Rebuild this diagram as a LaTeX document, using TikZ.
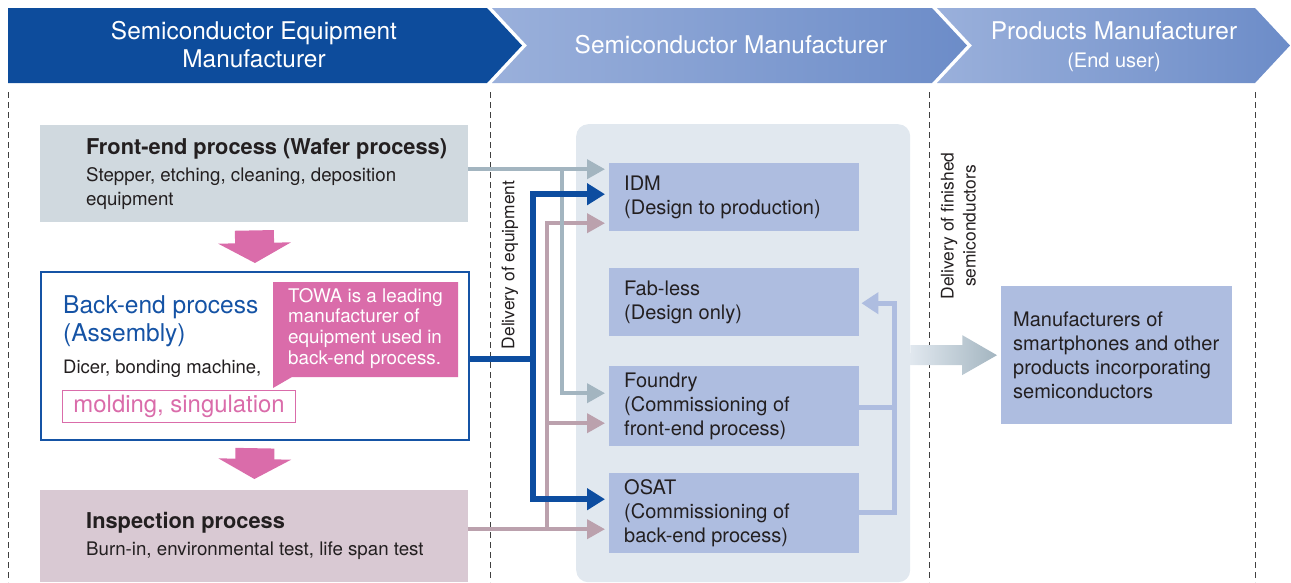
\documentclass[tikz,border=0pt]{standalone}
\usepackage{fontspec}
\setmainfont{TeX Gyre Heros}
\usetikzlibrary{arrows.meta,positioning}
\definecolor{bandblue}{HTML}{0D4C9C}
\definecolor{bandlight}{HTML}{9AB0DB}
\definecolor{banddark}{HTML}{6C8CC8}
\definecolor{frontgray}{HTML}{D0D9DF}
\definecolor{inspgray}{HTML}{D9C9D3}
\definecolor{backblue}{HTML}{1553A5}
\definecolor{towapink}{HTML}{DA6CAA}
\definecolor{panelgray}{HTML}{E1E8EF}
\definecolor{firmblue}{HTML}{AEBDE0}
\definecolor{frontline}{HTML}{A3B5C0}
\definecolor{inspline}{HTML}{BBA1AD}
\definecolor{equipblue}{HTML}{0D4DA0}
\definecolor{inktext}{HTML}{231F20}

\begin{document}
\begin{tikzpicture}
		[x=1pt, y=-1pt, inner sep=0pt, text=inktext,
		stagetext/.style	= {text=white, align=center, font=\fontsize{24.4}{28}\selectfont},
		procbox/.style	= {rectangle, anchor=north west, minimum width=428pt},
		proctext/.style	= {align=left, font=\fontsize{18.7}{24}\selectfont},
		firmbox/.style	= {rectangle, fill=firmblue, anchor=north west, minimum width=250pt},
		firmtext/.style	= {align=left, font=\fontsize{20}{24}\selectfont},
		delivtext/.style	= {rotate=90, align=center, font=\fontsize{17.4}{22}\selectfont},
		divider/.style	= {draw=black!75, line width=0.8pt, dash pattern=on 6pt off 4pt},
		frontpath/.style	= {->, >={Triangle[length=18pt,width=19pt]}, draw=frontline, line width=4pt, shorten >=4pt},
		equippath/.style	= {->, >={Triangle[length=18pt,width=21pt]}, draw=equipblue, line width=6pt, shorten >=4pt},
		insppath/.style	= {->, >={Triangle[length=18pt,width=19pt]}, draw=inspline, line width=4pt, shorten >=4pt},
		returnpath/.style	= {draw=firmblue, line width=5pt},
		flowdown/.style	= {->, >={Triangle[length=20pt,width=72pt]}, draw=towapink, line width=39pt}]
		
		\useasboundingbox (0,0) rectangle (1291,582);
		
		% stage banners
		\fill [bandblue] (8,8) -- (487,8) -- (522,45.5) -- (487,83) -- (8,83) -- cycle;
		\shade [left color=bandlight, right color=banddark] (492,8) -- (932,8) -- (967,45.5) -- (932,83) -- (492,83) -- (527,45.5) -- cycle;
		\shade [left color=bandlight, right color=banddark] (937,8) -- (1255,8) -- (1290,45.5) -- (1255,83) -- (937,83) -- (972,45.5) -- cycle;
		
		\node at (254, 44.5)	[stagetext]	(equip)	{Semiconductor Equipment\\Manufacturer};
		\node at (731, 45)	[stagetext]	(semi)	{Semiconductor Manufacturer};
		\node at (1114, 46.5)	[stagetext]	(enduser)	{Products Manufacturer\\{\fontsize{20}{24}\selectfont (End user)}};
		
		\draw [divider] (8,92) -- (8,582);
		\draw [divider] (490,92) -- (490,582);
		\draw [divider] (929,92) -- (929,582);
		\draw [divider] (1255,92) -- (1255,582);
		
		% equipment side
		\node at (40, 125)	[procbox, fill=frontgray, minimum height=97pt]	(fe)	{};
		\node at (40, 271)	[procbox, draw=backblue, line width=2.2pt, fill=white, minimum height=168pt]	(be)	{};
		\node at (40, 490)	[procbox, fill=inspgray, minimum height=92pt]	(insp)	{};
		
		\node [proctext, right=46pt of fe.west]	(fetxt)	{{\bfseries\fontsize{21.8}{27}\selectfont Front-end process (Wafer process)}\\[3pt]Stepper, etching, cleaning, deposition\\equipment};
		\node [proctext, right=46pt of insp.west]	(insptxt)	{{\bfseries\fontsize{21.8}{27}\selectfont Inspection process}\\[3pt]Burn-in, environmental test, life span test};
		
		\node at (63, 295.5)	[anchor=north west, align=left, text=backblue, font=\fontsize{24.5}{28}\selectfont]	(betxt)	{Back-end process\\(Assembly)};
		\node at (63, 373)	[anchor=base west, font=\fontsize{18.5}{24}\selectfont]	(dicer)	{Dicer, bonding machine,};
		\node at (62, 390)	[anchor=north west, draw=towapink, line width=1.2pt, text=towapink, minimum width=233pt, minimum height=32pt, font=\fontsize{23.9}{28}\selectfont]	(mold)	{molding, singulation};
		
		\fill [towapink] (273,282) -- (458,282) -- (458,377) -- (292,377) -- (273,388) -- cycle;
		\node at (288, 288)	[anchor=north west, align=left, text=white, font=\fontsize{18.8}{20.7}\selectfont]	(towa)	{TOWA is a leading\\manufacturer of\\equipment used in\\back-end process.};
		
		\draw [flowdown, shorten <=8pt, shorten >=8pt] (fe.south) -- (be.north);
		\draw [flowdown, shorten <=7pt, shorten >=11pt] (be.south) -- (insp.north);
		
		% semiconductor manufacturer side
		\node at (576, 124)	[rectangle, anchor=north west, fill=panelgray, rounded corners=12pt, minimum width=334pt, minimum height=458pt]	(panel)	{};
		
		\node at (609, 163)	[firmbox, minimum height=68pt]	(idm)	{};
		\node at (609, 268)	[firmbox, minimum height=68pt]	(fab)	{};
		\node at (609, 366)	[firmbox, minimum height=80pt]	(fdy)	{};
		\node at (609, 473)	[firmbox, minimum height=80pt]	(osat)	{};
		\node at (1001, 286)	[firmbox, minimum width=231pt, minimum height=138pt]	(cust)	{};
		
		\node [firmtext, right=15pt of idm.west]	(idmtxt)	{IDM\\(Design to production)};
		\node [firmtext, right=15pt of fab.west]	(fabtxt)	{Fab-less\\(Design only)};
		\node [firmtext, right=15pt of fdy.west]	(fdytxt)	{Foundry\\(Commissioning of\\front-end process)};
		\node [firmtext, right=15pt of osat.west]	(osattxt)	{OSAT\\(Commissioning of\\back-end process)};
		\node [firmtext, right=12pt of cust.west]	(custtxt)	{Manufacturers of\\smartphones and other\\products incorporating\\semiconductors};
		
		\node at (510, 265)	[delivtext]	(delequip)	{Delivery of equipment};
		\node at (958.5, 226)	[delivtext]	(delfin)	{Delivery of finished\\semiconductors};
		
		% deliveries of equipment
		\draw [insppath] ([yshift=7pt]insp.east) -- ([yshift=-16pt]osat.west);
		\draw [insppath] ([yshift=7pt]insp.east) -- ++(79,0) |- ([yshift=-17pt]fdy.west);
		\draw [insppath] ([yshift=7pt]insp.east) -- ++(79,0) |- ([yshift=-26pt]idm.west);
		
		\draw [frontpath] ([yshift=4.5pt]fe.east) -- ([yshift=28pt]idm.west);
		\draw [frontpath] ([yshift=4.5pt]fe.east) -- ++(94,0) |- ([yshift=13pt]fdy.west);
		
		\draw [equippath] ([yshift=-3pt]be.east) -- ++(63,0) |- ([yshift=3pt]idm.west);
		\draw [equippath] ([yshift=-3pt]be.east) -- ++(63,0) |- ([yshift=14pt]osat.west);
		
		% contract manufacturers back to fab-less
		\draw [returnpath] ([yshift=-1pt]fdy.east) -- ++(35,0);
		\draw [returnpath, ->, >={Triangle[length=17pt,width=21pt]}, shorten >=2pt] ([yshift=1pt]osat.east) -- ++(35,0) |- ([yshift=-1pt]fab.east);
		
		% finished semiconductors to end user
		\shade [left color=panelgray, right color=frontline] (panel.east |- cust.west) ++(0,-10) -- ++(52,0) -- ++(0,-10) -- ([xshift=-4pt]cust.west) -- ++(-35,20) -- ++(0,-10) -- ++(-52,0) -- cycle;
		
		\end{tikzpicture}
\end{document}
